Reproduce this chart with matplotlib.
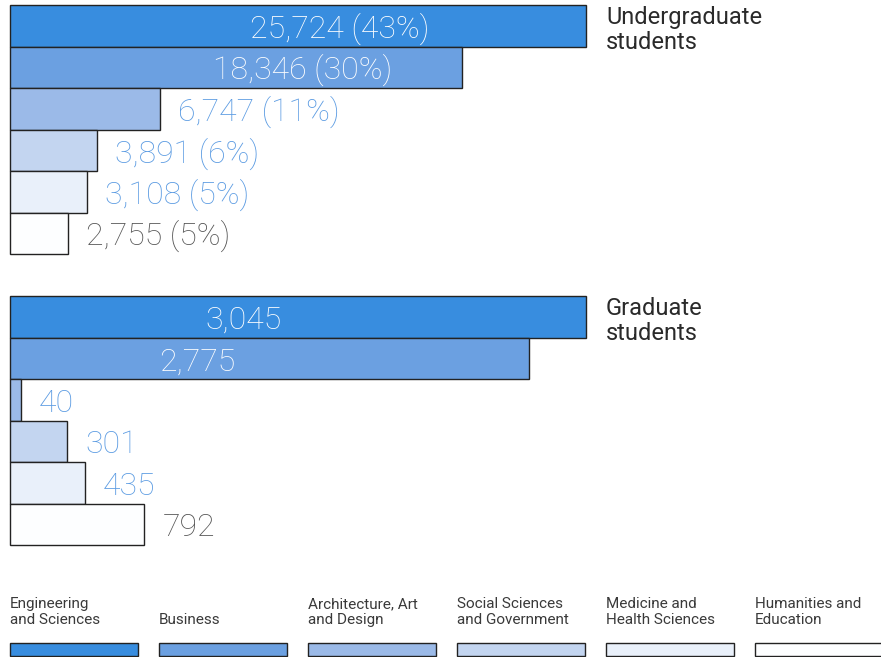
import matplotlib.pyplot as plt
from matplotlib.patches import Rectangle

# ---- data ----
categories = ["Engineering\nand Sciences", "Business", "Architecture, Art\nand Design",
              "Social Sciences\nand Government", "Medicine and\nHealth Sciences",
              "Humanities and\nEducation"]
colors = ["#388ddf", "#6ba0e1", "#9bbae8", "#c3d5f0", "#e9f0fa", "#fdfeff"]

ug_counts = [25724, 18346, 6747, 3891, 3108, 2755]
ug_labels = ["25,724 (43%)", "18,346 (30%)", "6,747 (11%)", "3,891 (6%)", "3,108 (5%)", "2,755 (5%)"]
# bar lengths as drawn in the picture (not quite proportional to the counts)
ug_bars = [25724, 20190, 6700, 3890, 3440, 2590]

gr_counts = [3045, 2775, 40, 301, 435, 792]
gr_labels = ["3,045", "2,775", "40", "301", "435", "792"]
gr_bars = [3045, 2743, 58, 302, 397, 710]

W, H = 881, 657
fig = plt.figure(figsize=(W / 100, H / 100), dpi=100)
num_font = dict(family=["Roboto", "DejaVu Sans"], weight="light")
txt_font = dict(family=["Roboto", "DejaVu Sans"])


def panel(top, bottom, bars, labels, inside_pos, title):
    ax = fig.add_axes([10 / W, (H - bottom) / H, 576 / W, (bottom - top) / H])
    rects = ax.barh(range(len(bars)), bars, height=1.0, color=colors,
                    edgecolor="#222222", linewidth=1)
    for r in rects:
        r.set_clip_on(False)
    ax.set_xlim(0, bars[0])
    ax.set_ylim(len(bars) - 0.5, -0.5)
    ax.axis("off")
    for i, (b, lab) in enumerate(zip(bars, labels)):
        if i < 2:
            ax.annotate(lab, (b * inside_pos[i], i), xytext=(0, -12),
                        textcoords="offset pixels", color="white", fontsize=23,
                        ha="center", va="baseline", **num_font)
        else:
            c = "#555555" if i == 5 else "#5b9be2"
            ax.annotate(lab, (b, i), xytext=(18, -12), textcoords="offset pixels",
                        color=c, fontsize=23, ha="left", va="baseline", **num_font)
    fig.text(606 / W, 1 - (top + 1) / H, title, fontsize=17, color="#2a2a2a",
             ha="left", va="top", linespacing=1.1, **txt_font)


panel(5, 254, ug_bars, ug_labels, [0.573, 0.648], "Undergraduate\nstudents")
panel(296, 545, gr_bars, gr_labels, [0.405, 0.36], "Graduate\nstudents")

# ---- legend ----
for k, (cat, col) in enumerate(zip(categories, colors)):
    x = 10 + 149 * k
    fig.patches.append(Rectangle((x / W, (H - 656) / H), 128 / W, 13 / H,
                                 transform=fig.transFigure, facecolor=col,
                                 edgecolor="#222222", linewidth=1))
    fig.text(x / W, 1 - 627 / H, cat, fontsize=11, color="#3a3a3a",
             ha="left", va="bottom", linespacing=1.2, **txt_font)

fig.savefig("out.png", dpi=100)
